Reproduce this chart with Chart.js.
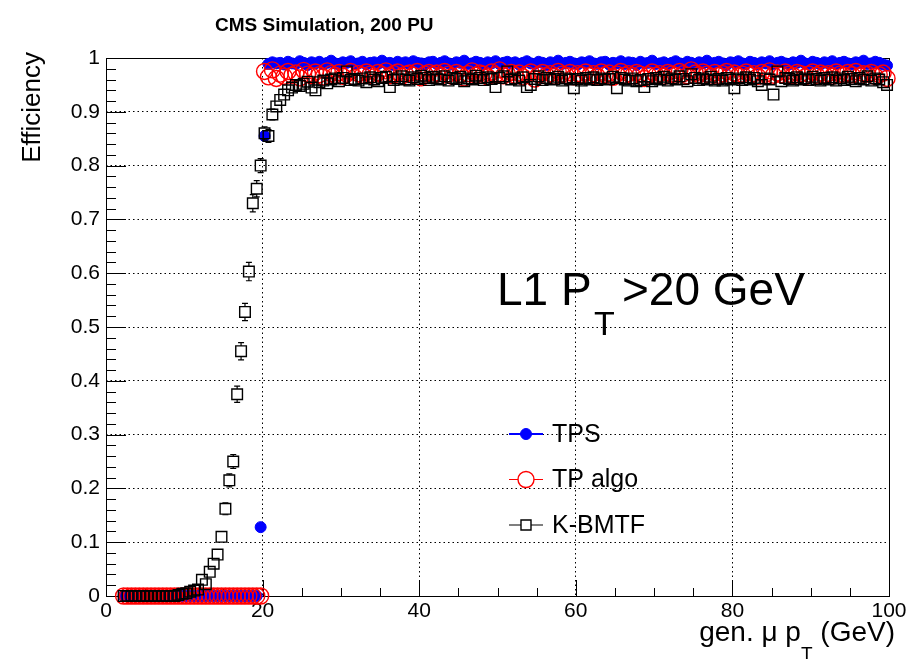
<!DOCTYPE html>
<html>
<head>
<meta charset="utf-8">
<script src="https://cdn.jsdelivr.net/npm/chart.js@4.4.1/dist/chart.umd.min.js"></script>
<style>
  html, body { margin: 0; padding: 0; background: #fff; }
  canvas { display: block; }
</style>
</head>
<body>
<canvas id="eff" width="912" height="659"></canvas>
<script>
// gen. muon pT bin centres (GeV), 0.5 GeV bins
const ptBins = [
  2.25,2.75,3.25,3.75,4.25,4.75,5.25,5.75,6.25,6.75,7.25,7.75,8.25,8.75,9.25,9.75,10.25,10.75,11.25,11.75,
  12.25,12.75,13.25,13.75,14.25,14.75,15.25,15.75,16.25,16.75,17.25,17.75,18.25,18.75,19.25,19.75,20.25,20.75,21.25,21.75,
  22.25,22.75,23.25,23.75,24.25,24.75,25.25,25.75,26.25,26.75,27.25,27.75,28.25,28.75,29.25,29.75,30.25,30.75,31.25,31.75,
  32.25,32.75,33.25,33.75,34.25,34.75,35.25,35.75,36.25,36.75,37.25,37.75,38.25,38.75,39.25,39.75,40.25,40.75,41.25,41.75,
  42.25,42.75,43.25,43.75,44.25,44.75,45.25,45.75,46.25,46.75,47.25,47.75,48.25,48.75,49.25,49.75,50.25,50.75,51.25,51.75,
  52.25,52.75,53.25,53.75,54.25,54.75,55.25,55.75,56.25,56.75,57.25,57.75,58.25,58.75,59.25,59.75,60.25,60.75,61.25,61.75,
  62.25,62.75,63.25,63.75,64.25,64.75,65.25,65.75,66.25,66.75,67.25,67.75,68.25,68.75,69.25,69.75,70.25,70.75,71.25,71.75,
  72.25,72.75,73.25,73.75,74.25,74.75,75.25,75.75,76.25,76.75,77.25,77.75,78.25,78.75,79.25,79.75,80.25,80.75,81.25,81.75,
  82.25,82.75,83.25,83.75,84.25,84.75,85.25,85.75,86.25,86.75,87.25,87.75,88.25,88.75,89.25,89.75,90.25,90.75,91.25,91.75,
  92.25,92.75,93.25,93.75,94.25,94.75,95.25,95.75,96.25,96.75,97.25,97.75,98.25,98.75,99.25,99.75
];

const tpsEff = [
  0,0,0,0,0,0,0,0,0,0,0,0,0,0,0,0,0,0,0,0,
  0,0,0,0,0,0,0,0,0,0,0,0,0,0,0,0.128,0.855,0.989,0.992,0.99,
  0.991,0.988,0.993,0.99,0.989,0.994,0.991,0.987,0.992,0.99,0.993,0.989,0.991,0.995,0.99,0.988,0.992,0.991,0.994,0.989,
  0.99,0.993,0.988,0.991,0.992,0.989,0.995,0.99,0.991,0.987,0.993,0.99,0.992,0.989,0.994,0.991,0.99,0.988,0.992,0.993,
  0.989,0.991,0.994,0.99,0.988,0.992,0.991,0.995,0.989,0.99,0.993,0.991,0.988,0.992,0.99,0.994,0.989,0.991,0.993,0.99,
  0.992,0.988,0.991,0.994,0.99,0.989,0.993,0.991,0.987,0.992,0.99,0.995,0.989,0.991,0.993,0.99,0.988,0.992,0.991,0.994,
  0.99,0.989,0.992,0.993,0.988,0.991,0.99,0.994,0.989,0.992,0.991,0.987,0.993,0.99,0.991,0.995,0.989,0.99,0.992,0.988,
  0.991,0.994,0.99,0.989,0.993,0.991,0.988,0.992,0.99,0.995,0.989,0.991,0.993,0.99,0.987,0.992,0.991,0.994,0.99,0.989,
  0.993,0.991,0.988,0.992,0.99,0.994,0.989,0.991,0.993,0.99,0.988,0.992,0.991,0.995,0.99,0.989,0.993,0.991,0.988,0.992,
  0.99,0.994,0.989,0.991,0.993,0.99,0.988,0.992,0.991,0.995,0.989,0.99,0.993,0.991,0.988,0.986
];

const tpAlgoEff = [
  0,0,0,0,0,0,0,0,0,0,0,0,0,0,0,0,0,0,0,0,
  0,0,0,0,0,0,0,0,0,0,0,0,0,0,0,0,0.975,0.965,0.978,0.962,
  0.97,0.966,0.975,0.968,0.972,0.963,0.977,0.97,0.967,0.974,0.969,0.965,0.976,0.971,0.968,0.973,0.966,0.97,0.975,0.964,
  0.971,0.968,0.974,0.97,0.965,0.973,0.969,0.976,0.967,0.971,0.974,0.966,0.97,0.972,0.968,0.975,0.963,0.97,0.973,0.969,
  0.972,0.967,0.975,0.97,0.966,0.973,0.969,0.963,0.971,0.976,0.968,0.972,0.97,0.965,0.974,0.969,0.978,0.967,0.971,0.973,
  0.968,0.972,0.965,0.97,0.974,0.961,0.969,0.973,0.967,0.971,0.966,0.975,0.97,0.968,0.973,0.965,0.971,0.969,0.974,0.967,
  0.971,0.966,0.974,0.969,0.972,0.964,0.97,0.975,0.968,0.971,0.967,0.973,0.97,0.962,0.969,0.974,0.968,0.971,0.966,0.973,
  0.97,0.968,0.975,0.971,0.967,0.978,0.972,0.969,0.974,0.97,0.966,0.973,0.968,0.971,0.975,0.969,0.972,0.967,0.97,0.974,
  0.968,0.971,0.966,0.973,0.97,0.976,0.968,0.972,0.969,0.974,0.97,0.967,0.973,0.971,0.965,0.97,0.974,0.968,0.972,0.969,
  0.971,0.966,0.974,0.97,0.968,0.973,0.969,0.975,0.967,0.971,0.97,0.973,0.966,0.969,0.972,0.962
];

const kbmtfEff = [
  0,0,0,0,0,0,0,0,0,0,0,0,0,0,0.002,0.004,0.005,0.008,0.01,0.012,
  0.03,0.022,0.045,0.06,0.077,0.11,0.162,0.215,0.25,0.375,0.455,0.528,0.603,0.73,0.757,0.8,0.86,0.855,0.895,0.91,
  0.922,0.932,0.94,0.945,0.95,0.948,0.952,0.956,0.945,0.94,0.955,0.958,0.953,0.96,0.962,0.957,0.963,0.975,0.959,0.961,
  0.958,0.962,0.955,0.964,0.96,0.957,0.963,0.965,0.946,0.959,0.962,0.966,0.96,0.958,0.964,0.961,0.967,0.963,0.959,0.965,
  0.962,0.96,0.966,0.958,0.963,0.961,0.965,0.957,0.962,0.96,0.967,0.963,0.959,0.964,0.961,0.946,0.963,0.966,0.975,0.96,
  0.962,0.958,0.964,0.946,0.95,0.961,0.966,0.959,0.963,0.96,0.961,0.965,0.958,0.962,0.96,0.944,0.961,0.958,0.963,0.96,
  0.964,0.959,0.962,0.96,0.961,0.965,0.944,0.963,0.96,0.958,0.962,0.957,0.959,0.946,0.961,0.957,0.963,0.96,0.965,0.958,
  0.962,0.96,0.966,0.961,0.957,0.97,0.963,0.959,0.962,0.96,0.965,0.958,0.961,0.958,0.963,0.96,0.944,0.962,0.959,0.964,
  0.96,0.963,0.957,0.95,0.962,0.96,0.932,0.975,0.957,0.963,0.961,0.958,0.964,0.96,0.962,0.959,0.965,0.961,0.958,0.963,
  0.96,0.964,0.958,0.962,0.959,0.965,0.961,0.957,0.963,0.96,0.966,0.958,0.962,0.96,0.955,0.95
];

// statistical errors on K-BMTF, first 60 bins (rest are hidden by the marker)
const kbmtfErr = [
  0,0,0,0,0,0,0,0,0,0,0,0,0,0,0,0,0.003,0.003,0.004,0.004,
  0.005,0.005,0.006,0.007,0.008,0.009,0.011,0.012,0.013,0.015,0.016,0.016,0.017,0.016,0.015,0.013,0.012,0.012,0.01,0.009,
  0.008,0.007,0.007,0.006,0.006,0.006,0.005,0.005,0.006,0.006,0.005,0.005,0.005,0.005,0.005,0.005,0.005,0.004,0.005,0.005
];

const xTicks = [0, 20, 40, 60, 80, 100];
const yTicks = [0, 0.1, 0.2, 0.3, 0.4, 0.5, 0.6, 0.7, 0.8, 0.9, 1];

const FONT = '"Liberation Sans", Arial, Helvetica, sans-serif';

const toPoints = (vals) => vals.map((v, i) => ({ x: ptBins[i], y: v }));

// ROOT-like frame, inward ticks, error bars, legend and texts
const rootStyle = {
  id: 'rootStyle',
  beforeDatasetsDraw(chart) {
    const { ctx, chartArea: a, scales: { x, y } } = chart;
    ctx.save();
    ctx.strokeStyle = '#000';
    ctx.lineWidth = 1;
    ctx.strokeRect(a.left + 0.5, a.top + 0.5, a.right - a.left, a.bottom - a.top);
    ctx.beginPath();
    for (let k = 0; k <= 50; k++) {
      const py = Math.round(y.getPixelForValue(k * 0.02)) + 0.5;
      const len = k % 5 === 0 ? 20 : 10;
      ctx.moveTo(a.left, py);
      ctx.lineTo(a.left + len, py);
    }
    for (let k = 0; k <= 20; k++) {
      const px = Math.round(x.getPixelForValue(k * 5)) + 0.5;
      const len = k % 4 === 0 ? 16 : 8;
      ctx.moveTo(px, a.bottom);
      ctx.lineTo(px, a.bottom - len);
    }
    ctx.stroke();
    ctx.restore();
  },
  afterDatasetsDraw(chart) {
    const { ctx, scales: { x, y } } = chart;
    ctx.save();
    ctx.strokeStyle = '#000';
    ctx.lineWidth = 1.2;
    ctx.beginPath();
    kbmtfErr.forEach((e, i) => {
      if (!e) return;
      const px = x.getPixelForValue(ptBins[i]);
      const hi = y.getPixelForValue(kbmtfEff[i] + e);
      const lo = y.getPixelForValue(kbmtfEff[i] - e);
      const c = y.getPixelForValue(kbmtfEff[i]);
      const h = 5.3;
      if (c - hi > h) { ctx.moveTo(px, c - h); ctx.lineTo(px, hi); ctx.moveTo(px - 3, hi); ctx.lineTo(px + 3, hi); }
      if (lo - c > h) { ctx.moveTo(px, c + h); ctx.lineTo(px, lo); ctx.moveTo(px - 3, lo); ctx.lineTo(px + 3, lo); }
    });
    ctx.stroke();
    ctx.restore();
  },
  afterDraw(chart) {
    const { ctx } = chart;
    ctx.save();
    ctx.fillStyle = '#000';
    ctx.textBaseline = 'alphabetic';

    // title
    ctx.font = 'bold 19px ' + FONT;
    ctx.textAlign = 'left';
    ctx.fillText('CMS Simulation, 200 PU', 215, 31);

    // y title
    ctx.save();
    ctx.translate(40, 52);
    ctx.rotate(-Math.PI / 2);
    ctx.font = '26px ' + FONT;
    ctx.textAlign = 'right';
    ctx.fillText('Efficiency', 0, 0);
    ctx.restore();

    // x title: gen. mu p_T (GeV), right aligned
    ctx.font = '28px ' + FONT;
    const a1 = 'gen. \u03bc p', a3 = ' (GeV)';
    const w1 = ctx.measureText(a1).width, w3 = ctx.measureText(a3).width;
    ctx.font = '19px ' + FONT;
    const w2 = ctx.measureText('T').width;
    let sx = 895 - (w1 + w2 + w3);
    ctx.font = '28px ' + FONT;
    ctx.fillText(a1, sx, 641);
    ctx.font = '19px ' + FONT;
    ctx.fillText('T', sx + w1, 660);
    ctx.font = '28px ' + FONT;
    ctx.fillText(a3, sx + w1 + w2, 641);

    // cut label
    ctx.font = '46px ' + FONT;
    ctx.fillText('L1 P', 497, 305);
    ctx.fillText('>20 GeV', 622, 305);
    ctx.font = '34px ' + FONT;
    ctx.fillText('T', 594, 335);

    // legend
    chart.data.datasets.forEach((ds, i) => {
      const ly = 434 + i * 45.5;
      ctx.strokeStyle = ds.borderColor;
      ctx.lineWidth = ds.legendLine;
      ctx.beginPath();
      ctx.moveTo(509, ly);
      ctx.lineTo(543, ly);
      ctx.stroke();
      ctx.lineWidth = ds.borderWidth;
      ctx.beginPath();
      if (ds.pointStyle === 'rect') {
        ctx.fillStyle = '#fff';
        ctx.rect(521, ly - 5, 10, 10);
        ctx.fill();
      } else {
        ctx.fillStyle = ds.backgroundColor === 'transparent' ? '#fff' : ds.backgroundColor;
        ctx.arc(526, ly, ds.pointRadius, 0, Math.PI * 2);
        ctx.fill();
      }
      ctx.stroke();
      ctx.fillStyle = '#000';
      ctx.font = '25px ' + FONT;
      ctx.textBaseline = 'middle';
      ctx.fillText(ds.label, 552, ly + 1);
    });
    ctx.restore();
  }
};

new Chart(document.getElementById('eff'), {
  type: 'scatter',
  data: {
    datasets: [
      {
        label: 'TPS',
        data: toPoints(tpsEff),
        pointStyle: 'circle',
        pointRadius: 5.5,
        backgroundColor: '#0000ff',
        borderColor: '#0000ff',
        borderWidth: 1,
        legendLine: 2,
        clip: false,
        order: 3
      },
      {
        label: 'TP algo',
        data: toPoints(tpAlgoEff),
        pointStyle: 'circle',
        pointRadius: 8,
        backgroundColor: 'transparent',
        borderColor: '#ff0000',
        borderWidth: 1.4,
        legendLine: 1.2,
        clip: false,
        order: 2
      },
      {
        label: 'K-BMTF',
        data: toPoints(kbmtfEff),
        pointStyle: 'rect',
        pointRadius: 7.5,
        backgroundColor: 'transparent',
        borderColor: '#000000',
        borderWidth: 1.4,
        legendLine: 1.2,
        clip: false,
        order: 1
      }
    ]
  },
  options: {
    responsive: false,
    animation: false,
    events: [],
    layout: { padding: { left: 0, right: 23, top: 58, bottom: 0 } },
    plugins: { legend: { display: false }, tooltip: { enabled: false } },
    scales: {
      x: {
        type: 'linear',
        min: 0,
        max: 100,
        afterFit: (s) => { s.height = 63; },
        afterBuildTicks: (s) => { s.ticks = xTicks.map((v) => ({ value: v })); },
        ticks: {
          color: '#000',
          font: { family: FONT, size: 21 },
          padding: 3,
          maxRotation: 0,
          autoSkip: false,
          callback: (v) => String(v)
        },
        grid: { color: '#000', lineWidth: 1, drawTicks: false },
        border: { display: false, dash: [1.5, 3] }
      },
      y: {
        type: 'linear',
        min: 0,
        max: 1,
        afterFit: (s) => { s.width = 106; },
        afterBuildTicks: (s) => { s.ticks = yTicks.map((v) => ({ value: v })); },
        ticks: {
          color: '#000',
          font: { family: FONT, size: 21 },
          padding: 6,
          autoSkip: false,
          callback: (v) => String(Math.round(v * 10) / 10)
        },
        grid: { color: '#000', lineWidth: 1, drawTicks: false },
        border: { display: false, dash: [1.5, 3] }
      }
    }
  },
  plugins: [rootStyle]
});
</script>
</body>
</html>
